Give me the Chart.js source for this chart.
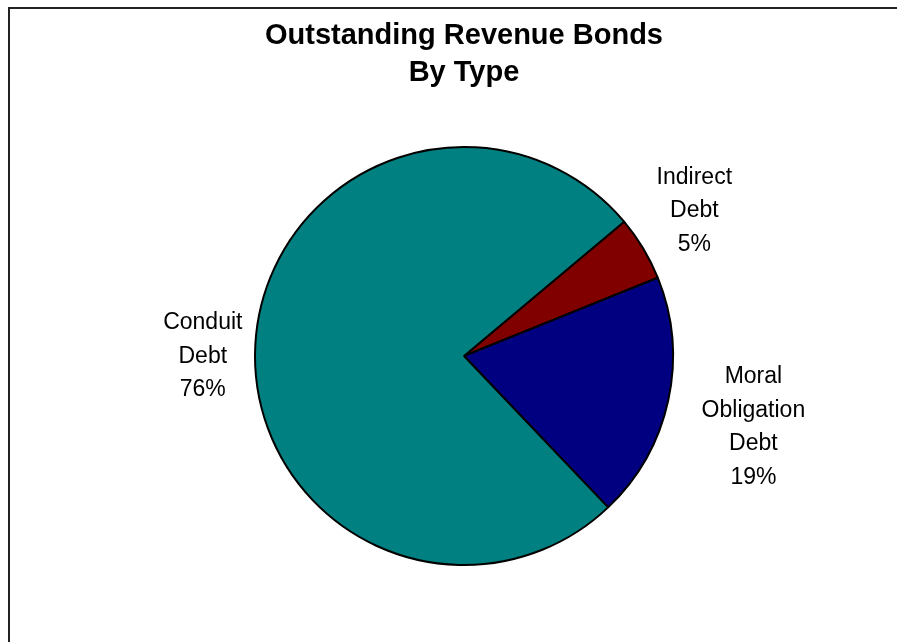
<!DOCTYPE html>
<html>
<head>
<meta charset="utf-8">
<title>Outstanding Revenue Bonds By Type</title>
<script src="https://cdn.jsdelivr.net/npm/chart.js@4"></script>
<style>
  html, body { margin: 0; padding: 0; background: #fff; }
  #wrap { width: 897px; height: 642px; }
</style>
</head>
<body>
<div id="wrap"><canvas id="pieChart" width="897" height="642"></canvas></div>
<script>
'use strict'

// Bond categories (one entry per slice, split into label lines)
const bondTypes = [
    ['Indirect', 'Debt'],
    ['Moral', 'Obligation', 'Debt'],
    ['Conduit', 'Debt']
];

// Share of outstanding revenue bonds, in percent
const bondShares = [5, 19, 76];

const sliceColors = ['#800000', '#000080', '#008080'];

const titleLines = ['Outstanding Revenue Bonds', 'By Type'];

const FONT = "'Liberation Sans', Arial, Helvetica, sans-serif";

// Frame line around the chart
const framePlugin = {
    id: 'frame',
    beforeDraw(chart) {
        const ctx = chart.ctx;
        ctx.save();
        ctx.fillStyle = '#fff';
        ctx.fillRect(0, 0, chart.width, chart.height);
        ctx.strokeStyle = '#222';
        ctx.lineWidth = 2;
        ctx.strokeRect(9, 8, chart.width + 20, chart.height + 20);
        ctx.restore();
    }
};

// Category name + percentage outside each slice
const sliceLabelPlugin = {
    id: 'sliceLabels',
    afterDatasetsDraw(chart, args, opts) {
        const ctx = chart.ctx;
        const meta = chart.getDatasetMeta(0);
        const data = chart.data.datasets[0].data;
        const total = data.reduce((a, b) => a + b, 0);
        const lh = opts.lineHeight;
        const gap = opts.gap;

        ctx.save();
        ctx.font = opts.size + 'px ' + FONT;
        ctx.fillStyle = '#000';
        ctx.textAlign = 'center';
        ctx.textBaseline = 'middle';

        meta.data.forEach((arc, i) => {
            const p = arc.getProps(['x', 'y', 'startAngle', 'endAngle', 'outerRadius'], true);
            const mid = (p.startAngle + p.endAngle) / 2;
            const ux = Math.cos(mid);
            const uy = Math.sin(mid);

            const lines = bondTypes[i].concat([Math.round(data[i] / total * 100) + '%']);
            const hw = Math.max(...lines.map(t => ctx.measureText(t).width)) / 2;
            const hh = lines.length * lh / 2;
            const nudge = opts.nudge[i] || [0, 0];

            const cx = p.x + (p.outerRadius + gap) * ux + hw * ux + nudge[0];
            const cy = p.y + (p.outerRadius + gap) * uy + hh * uy + nudge[1];

            lines.forEach((t, j) => {
                ctx.fillText(t, cx, cy - hh + lh / 2 + j * lh);
            });
        });
        ctx.restore();
    }
};

const ctx = document.getElementById('pieChart').getContext('2d');
const pieChart = new Chart(ctx, {
    type: 'pie',
    data: {
        labels: bondTypes.map(l => l.join(' ')),
        datasets: [{
            data: bondShares,
            backgroundColor: sliceColors,
            borderColor: '#000',
            borderWidth: 2,
            hoverOffset: 0
        }]
    },
    options: {
        responsive: false,
        animation: false,
        events: [],
        rotation: 50,
        layout: {
            padding: { top: 0, left: 100, right: 69, bottom: 76 }
        },
        plugins: {
            legend: { display: false },
            tooltip: { enabled: false },
            title: {
                display: true,
                text: titleLines,
                color: '#000',
                font: { family: FONT, size: 29, weight: 'bold', lineHeight: 1.276 },
                padding: { top: 17, bottom: 55 }
            },
            sliceLabels: {
                size: 23,
                lineHeight: 33.5,
                gap: 22,
                // small hand adjustments so the label blocks sit clear of the rim
                nudge: [[0, 0], [13, 8], [9, 16]]
            }
        }
    },
    plugins: [framePlugin, sliceLabelPlugin]
});
</script>
</body>
</html>
